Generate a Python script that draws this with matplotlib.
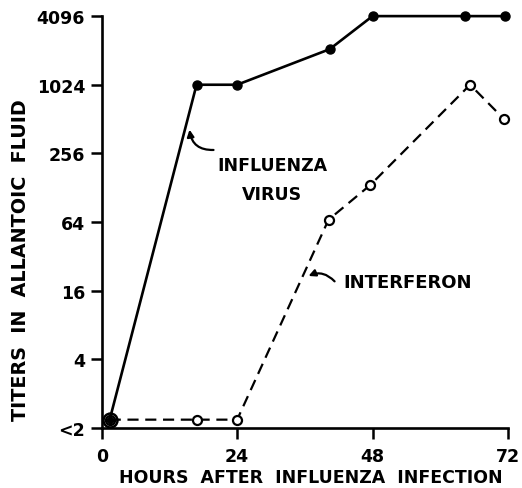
import matplotlib.pyplot as plt

# hours after infection and titers (log2 scale), "<2" plotted just above 1
hours_virus = [1.4, 16.8, 24, 40.4, 48, 64.4, 71.5]
titer_virus = [1.18, 1024, 1024, 2100, 4096, 4096, 4096]

hours_ifn = [1.4, 16.8, 24, 40.2, 47.6, 65.3, 71.3]
titer_ifn = [1.18, 1.18, 1.18, 67, 135, 1024, 512]

x_ticks = [0, 24, 48, 72]
y_ticks = [1, 4, 16, 64, 256, 1024, 4096]
y_labels = ["<2", "4", "16", "64", "256", "1024", "4096"]

plt.rcParams['font.family'] = 'DejaVu Sans'
plt.rcParams['font.weight'] = 'bold'

fig = plt.figure(figsize=(5.22, 4.89), dpi=100)
ax = fig.add_axes([0.195, 0.123, 0.778, 0.842])

ax.plot(hours_virus, titer_virus, '-', color='black', lw=1.9,
        marker='o', ms=6.5, mfc='black', mec='black', zorder=3, clip_on=False)
ax.plot(hours_ifn, titer_ifn, '--', color='black', lw=1.6, dashes=(5, 3),
        marker='o', ms=6.5, mfc='white', mec='black', mew=1.6, zorder=4, clip_on=False)
# filled virus dot sits inside the first interferon circle
ax.plot(hours_virus[0], titer_virus[0], 'o', ms=4.5, color='black', zorder=5)
ax.plot(hours_ifn[0], titer_ifn[0], 'o', ms=10, mfc='none', mec='black', mew=1.8, zorder=5)

ax.set_yscale('log', base=2)
ax.set_xlim(0, 72)
ax.set_ylim(1, 4096)
ax.set_xticks(x_ticks)
ax.set_yticks(y_ticks)
ax.set_yticklabels(y_labels)
ax.minorticks_off()
ax.tick_params(axis='both', direction='out', length=8, width=1.8, labelsize=12.5, pad=4)
ax.tick_params(axis='x', pad=6)

for s in ['top', 'right']:
    ax.spines[s].set_visible(False)
for s in ['left', 'bottom']:
    ax.spines[s].set_linewidth(1.9)

fig.text(0.596, 0.022, 'HOURS  AFTER  INFLUENZA  INFECTION', fontsize=12.5,
         fontweight='bold', ha='center', va='center')
fig.text(0.040, 0.468, 'TITERS  IN  ALLANTOIC  FLUID', fontsize=13.8,
         fontweight='bold', ha='center', va='center', rotation=90)

ax.text(30.2, 152, 'INFLUENZA\nVIRUS', fontsize=12.5, ha='center', va='center',
        multialignment='center', linespacing=1.8)
ax.annotate('', xy=(15.5, 437), xytext=(20.3, 275),
            arrowprops=dict(arrowstyle='-|>', color='black', lw=1.6,
                            connectionstyle='arc3,rad=-0.5', mutation_scale=10))
ax.text(42.9, 18.9, 'INTERFERON', fontsize=13, ha='left', va='center')
ax.annotate('', xy=(36.2, 21), xytext=(41.6, 18.5),
            arrowprops=dict(arrowstyle='-|>', color='black', lw=1.6,
                            connectionstyle='arc3,rad=0.4', mutation_scale=10))

fig.savefig('out.png', dpi=100)
